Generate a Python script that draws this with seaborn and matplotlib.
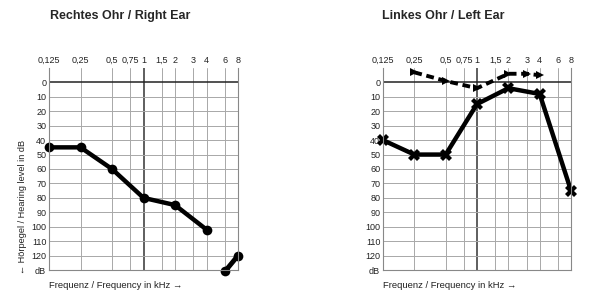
import matplotlib
matplotlib.use("Agg")
import matplotlib.pyplot as plt
import seaborn as sns
import pandas as pd
import numpy as np

# ---- data ----
freq_ticks = [0.125, 0.25, 0.5, 0.75, 1, 1.5, 2, 3, 4, 6, 8]
freq_labels = ["0,125", "0,25", "0,5", "0,75", "1", "1,5", "2", "3", "4", "6", "8"]
db_ticks = [0, 10, 20, 30, 40, 50, 60, 70, 80, 90, 100, 110, 120, 130]
db_labels = ["0", "10", "20", "30", "40", "50", "60", "70", "80", "90", "100", "110", "120", "dB"]

right_freq = [0.125, 0.25, 0.5, 1, 2, 4]
right_air = [45, 45, 60, 80, 85, 102]
right_off_freq = [6, 8]
right_off = [131, 120]

left_freq = [0.125, 0.25, 0.5, 1, 2, 4, 8]
left_air = [40, 50, 50, 15, 4, 8, 75]
left_bone_freq = [0.25, 0.5, 1, 2, 3, 4]
left_bone = [-7, -1, 4, -6, -6, -5]

sns.set_style("white")
plt.rcParams["font.family"] = ["Liberation Sans", "DejaVu Sans"]

fig = plt.figure(figsize=(6, 3.06), dpi=100)
ax_r = fig.add_axes([49/600, 1-270/306, 189/600, 202/306])
ax_l = fig.add_axes([383/600, 1-270/306, 188/600, 202/306])

def style(ax):
    ax.set_xscale("log", base=2)
    ax.set_xlim(0.125, 8)
    ax.set_ylim(130, -10)
    for f in freq_ticks:
        ax.axvline(f, color="#333333" if f == 1 else "#a8a8a8",
                   lw=1.1 if f == 1 else 0.7, zorder=0)
    for d in db_ticks[:-1]:
        ax.axhline(d, color="#222222" if d == 0 else "#a8a8a8",
                   lw=1.1 if d == 0 else 0.7, zorder=0)
    ax.set_xticks(freq_ticks)
    ax.set_xticklabels(freq_labels)
    ax.xaxis.set_minor_locator(matplotlib.ticker.NullLocator())
    ax.xaxis.tick_top()
    ax.set_yticks(db_ticks)
    ax.set_yticklabels(db_labels)
    ax.tick_params(axis="both", length=0, labelsize=6.5, pad=2, colors="#222222")
    ax.spines["top"].set_visible(False)
    for s in ["left", "right", "bottom"]:
        ax.spines[s].set_color("#888888")
        ax.spines[s].set_linewidth(0.8)
    ax.set_xlabel("")
    ax.set_ylabel("")
    ax.text(0.0, -0.075, "Frequenz / Frequency in kHz \u2192", transform=ax.transAxes,
            fontsize=6.8, ha="left", va="center", color="#222222")

# Right ear
df_r = pd.DataFrame({"f": right_freq, "db": right_air})
sns.lineplot(data=df_r, x="f", y="db", ax=ax_r, color="black", lw=3.2,
             marker="o", markersize=7, markeredgewidth=0, clip_on=False)
df_r2 = pd.DataFrame({"f": right_off_freq, "db": right_off})
sns.lineplot(data=df_r2, x="f", y="db", ax=ax_r, color="black", lw=3.5,
             marker="o", markersize=7, markeredgewidth=0, clip_on=False)
style(ax_r)

# Left ear
df_l = pd.DataFrame({"f": left_freq, "db": left_air})
sns.lineplot(data=df_l, x="f", y="db", ax=ax_l, color="black", lw=3.2,
             marker="X", markersize=9, markeredgewidth=0, clip_on=False)
df_b = pd.DataFrame({"f": left_bone_freq, "db": left_bone})
sns.lineplot(data=df_b, x="f", y="db", ax=ax_l, color="black", lw=2.8,
             linestyle=(0, (2, 1.2)), marker=">", markersize=6,
             markeredgewidth=0, clip_on=False)
style(ax_l)

fig.text(50/600, 1-16/306, "Rechtes Ohr / Right Ear", fontsize=9,
         fontweight="bold", ha="left", va="center")
fig.text(382/600, 1-16/306, "Linkes Ohr / Left Ear", fontsize=9,
         fontweight="bold", ha="left", va="center")
fig.text(23/600, 1-207/306, "\u2190 H\u00f6rpegel / Hearing level in dB", fontsize=6.6,
         rotation=90, ha="center", va="center", color="#222222")

fig.savefig("out.png", dpi=100)
